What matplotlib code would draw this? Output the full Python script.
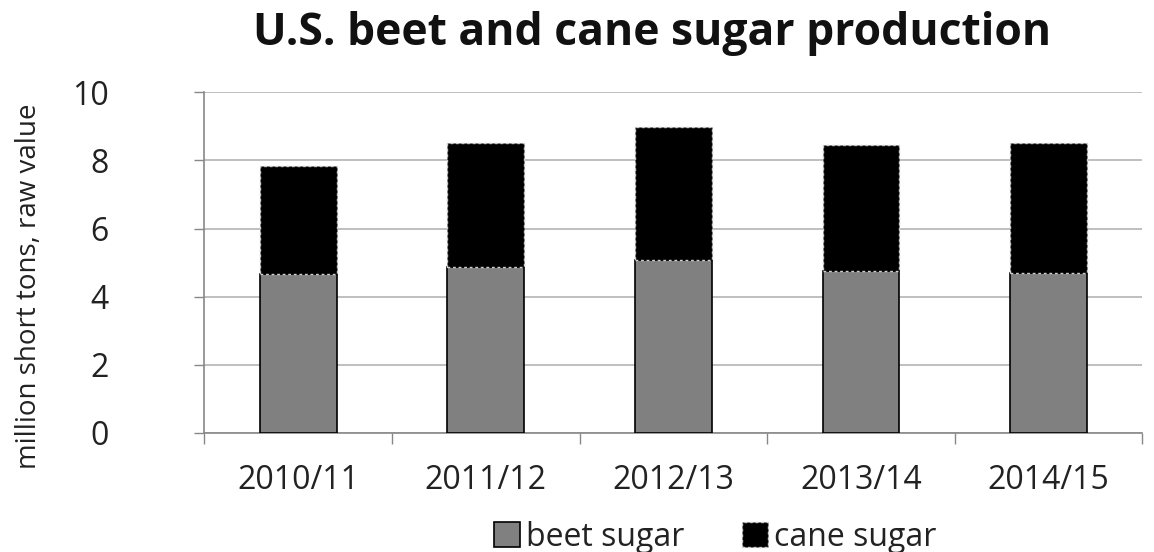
import numpy as np
from matplotlib import pyplot as plt

years = ['2010/11', '2011/12', '2012/13', '2013/14', '2014/15']
beet_sugar = [4.66, 4.88, 5.07, 4.75, 4.70]
cane_sugar = [3.18, 3.62, 3.90, 3.70, 3.80]

plt.rcParams['font.family'] = ['Open Sans', 'DejaVu Sans']

fig = plt.figure(figsize=(11.54, 5.52), dpi=100)
ax = fig.add_axes([0.177, 0.2156, 0.813, 0.6174])

x = np.arange(len(years))
w = 0.41
ax.bar(x, beet_sugar, w, color='#808080', edgecolor='black', linewidth=1.2,
       label='beet sugar', zorder=3)
ax.bar(x, cane_sugar, w, bottom=beet_sugar, color='black', edgecolor='#cfcfcf',
       linewidth=1.0, linestyle=(0, (2, 2)), label='cane sugar', zorder=3)

ax.set_xlim(-0.5, len(years) - 0.5)
ax.set_ylim(0, 10)
ax.set_yticks(range(0, 11, 2))
ax.yaxis.grid(True, color='#b4b4b4', linewidth=1.2, zorder=0)

ax.set_xticks(x)
ax.set_xticklabels(years)
ax.set_xticks(np.arange(-0.5, len(years)), minor=True)
ax.tick_params(axis='x', which='major', length=0, pad=22, labelsize=23, colors='#222222')
ax.tick_params(axis='x', which='minor', length=8, width=1, color='#888888')
ax.tick_params(axis='y', length=7, width=1, color='#888888', pad=62, labelsize=23,
               labelcolor='#222222', direction='out')
for lbl in ax.get_yticklabels():
    lbl.set_horizontalalignment('right')

for s in ['top', 'right']:
    ax.spines[s].set_visible(False)
for s in ['left', 'bottom']:
    ax.spines[s].set_color('#888888')
    ax.spines[s].set_linewidth(1.2)

ax.set_ylabel('million short tons, raw value', fontsize=20, color='#222222')
ax.yaxis.set_label_coords(-0.172, 0.43)

fig.suptitle('U.S. beet and cane sugar production', fontsize=32, fontweight='bold',
             x=0.565, y=0.98, color='#111111')

fig.legend(loc='lower center', bbox_to_anchor=(0.62, -0.055), ncol=2, frameon=False,
           fontsize=23, handlelength=0.8, handleheight=0.8, handletextpad=0.2,
           columnspacing=1.8, labelcolor='#222222')

plt.savefig('out.png', dpi=100)
